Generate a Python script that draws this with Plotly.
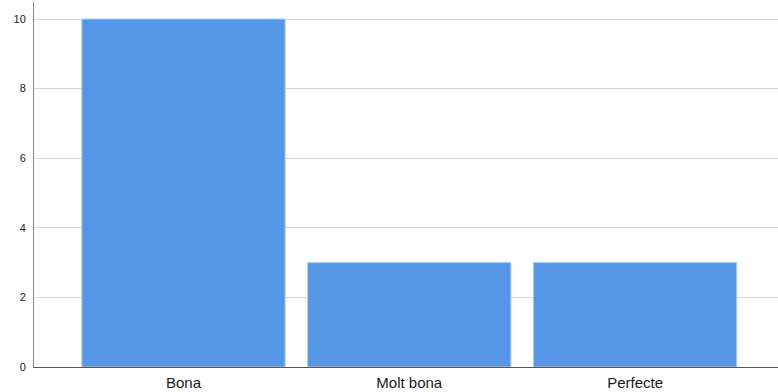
import plotly.graph_objects as go

categories = ["Bona", "Molt bona", "Perfecte"]
counts = [10, 3, 3]
y_ticks = [0, 2, 4, 6, 8, 10]

fig = go.Figure(go.Bar(
    x=categories, y=counts, width=0.9,
    marker=dict(color="#5596e6", line=dict(color="#a8c8f2", width=1)),
    hoverinfo="skip",
))
fig.update_layout(
    width=778, height=392,
    margin=dict(l=34, r=0, t=2, b=25, autoexpand=False),
    paper_bgcolor="white", plot_bgcolor="white",
    showlegend=False,
    font=dict(family="Liberation Sans, Arial, sans-serif", color="#1a1a1a"),
)
fig.update_xaxes(
    range=[-0.662, 2.633], automargin=False,
    showline=True, linecolor="#555", linewidth=1,
    showgrid=False, ticks="", tickfont=dict(size=15),
    ticklabelstandoff=2,
)
fig.update_yaxes(
    range=[0, 10.49], tickvals=y_ticks, automargin=False,
    showline=True, linecolor="#888", linewidth=1,
    showgrid=True, gridcolor="#d4d4d4", gridwidth=1,
    zeroline=False, ticks="", tickfont=dict(size=11),
    ticklabelstandoff=5,
)
fig.write_html("out.html", config={"displayModeBar": False},
               post_script="document.body.style.margin='0';")
